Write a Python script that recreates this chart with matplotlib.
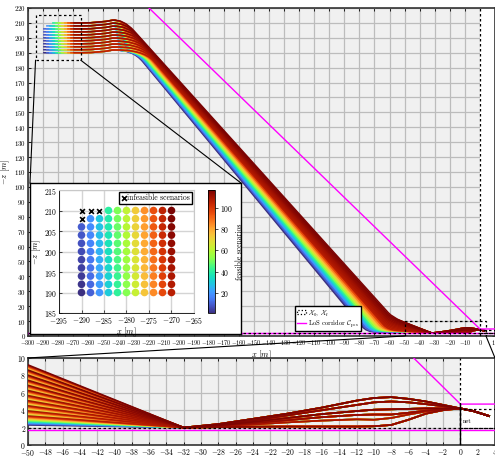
import numpy as np
import matplotlib.pyplot as plt
from matplotlib.collections import PathCollection
from matplotlib.colors import Normalize, ListedColormap
from matplotlib.patches import Rectangle, ConnectionPatch, Patch
from matplotlib.lines import Line2D
from matplotlib.path import Path

plt.rcParams['font.family'] = 'serif'
plt.rcParams['font.serif'] = ['cmr10', 'DejaVu Serif']
plt.rcParams['mathtext.fontset'] = 'cm'
plt.rcParams['axes.formatter.use_mathtext'] = True

# start grid of the scenarios (x0, -z0)
col_x = [-290, -288, -286, -284, -282, -280, -278, -276, -274, -272, -270]
row_z = [190, 192, 194, 196, 198, 200, 202, 204, 206, 208, 210]
infeasible_x = [-290, -290, -288, -286]
infeasible_z = [208, 210, 210, 210]

# route
level_end_x = -264
hump_x = [-252, -244]
hump_dz = [0.0, 1.8, 2.5]
lane_x111 = [-164, -146]    # where first / last lane cross -z = 111
lane_slope = [1.22, 1.12]   # dive slope of first / last lane
lane_z50 = [2.3, 9.2]       # -z of lowest / highest line at x = -50
dive_w = [0.6, 0.4]         # column / row share of the dive lane
low_w = [0.15, 0.85]        # column / row share of the low approach
merge_x, merge_z = -32, 2.0

# end game between merge point and the net
bump_x = [-32, -28, -24, -20, -16, -12, -10, -8, -6, -4, -2, 0]
bump_z = [
    [2.0, 2.4, 3.0, 3.6, 4.3, 5.1, 5.4, 5.5, 5.3, 5.0, 4.6, 4.2],
    [2.0, 2.3, 2.8, 3.4, 4.0, 4.6, 4.9, 5.0, 4.9, 4.7, 4.45, 4.2],
    [2.0, 2.25, 2.65, 3.1, 3.55, 3.9, 4.05, 4.1, 4.15, 4.2, 4.2, 4.2],
    [2.0, 2.2, 2.5, 2.85, 3.2, 3.45, 3.5, 3.5, 3.7, 3.95, 4.1, 4.2],
    [2.0, 2.15, 2.35, 2.6, 2.8, 2.95, 2.9, 3.1, 3.5, 3.85, 4.05, 4.2],
    [2.0, 2.05, 2.1, 2.12, 2.12, 2.12, 2.15, 2.3, 2.9, 3.6, 4.0, 4.2],
]
bump_of_row = [5, 3, 1, 4, 2, 0, 3, 5, 1, 2, 0]
exit_x = [1.5, 3.4]
exit_z = [3.9, 3.3]

# LoS corridor and net
los_x = [-219.7, 0, 10]
los_top = [220, 4.7, 4.7]
los_bottom = 1.7
floor_z = 2.0
net_top = 4.1

bad = set(zip(infeasible_x, infeasible_z))
paths, ids, feas_x, feas_z = [], [], [], []
k = 0
for i, x0 in enumerate(col_x):
    for j, z0 in enumerate(row_z):
        if (x0, z0) in bad:
            continue
        k += 1
        dl = (dive_w[0] * i + dive_w[1] * j) / 10
        ll = (low_w[0] * i + low_w[1] * j) / 10
        x111 = lane_x111[0] + dl * (lane_x111[1] - lane_x111[0])
        s = lane_slope[0] + dl * (lane_slope[1] - lane_slope[0])
        z50 = lane_z50[0] + ll * (lane_z50[1] - lane_z50[0])
        a = (z50 - merge_z) / (merge_x + 50)
        ztop = z0 + hump_dz[2]
        xtop = x111 - (ztop - 111) / s
        xk = (merge_z + a * merge_x - 111 - s * x111) / (a - s)
        zk = merge_z + a * (merge_x - xk)
        verts = [(x0, z0), (level_end_x, z0), (hump_x[0], z0 + hump_dz[0]),
                 (hump_x[1], z0 + hump_dz[1]),
                 (xtop, ztop), (xtop + 7, ztop - 7 * s),
                 (xk - 3, zk + 3 * s), (xk, zk), (xk + 6, zk - 6 * a)]
        codes = [Path.MOVETO, Path.LINETO, Path.CURVE3, Path.CURVE3,
                 Path.CURVE3, Path.CURVE3,
                 Path.LINETO, Path.CURVE3, Path.CURVE3]
        for bx, bz in zip(bump_x + exit_x, bump_z[bump_of_row[j]] + exit_z):
            verts.append((bx, bz))
            codes.append(Path.LINETO)
        paths.append(Path(verts, codes))
        ids.append(k)
        feas_x.append(x0)
        feas_z.append(z0)

ids = np.array(ids)
norm = Normalize(1, k)
cmap = ListedColormap(plt.get_cmap('turbo')(np.linspace(0.04, 1, 256)))
line_colors = cmap(norm(ids))

fig = plt.figure(figsize=(4.95, 4.57), dpi=100)

def style(axx, fs):
    axx.set_facecolor('#f0f0f0')
    axx.set_axisbelow(True)
    axx.grid(True, color='#bcbcbc', lw=0.9)
    axx.axvspan(0, 20, color='white', lw=0, zorder=1)
    axx.tick_params(direction='in', length=2, width=0.6, labelsize=fs, pad=1.5,
                    top=True, right=True)
    for sp in axx.spines.values():
        sp.set_linewidth(1.2)
        sp.set_color('#333333')

def draw(axx, lw):
    pc = PathCollection(paths, facecolors='none', edgecolors=line_colors,
                        linewidths=lw, zorder=3)
    axx.add_collection(pc)
    axx.plot(los_x, los_top, color='magenta', lw=1.0, zorder=4)
    axx.axhline(los_bottom, color='magenta', lw=1.0, zorder=4)
    axx.axhline(floor_z, color='k', lw=0.9, ls=(0, (2, 2)), zorder=5)
    axx.axvline(0, color='k', lw=0.9, ls=(0, (2, 2)), zorder=5)
    axx.add_patch(Rectangle((0, floor_z), 20, net_top - floor_z, fill=False,
                            ec='k', lw=0.9, ls=(0, (2, 2)), zorder=5))

# main view
ax = fig.add_axes([0.0566, 0.2648, 0.9434, 0.7177])
style(ax, 4.4)
draw(ax, 1.1)
ax.add_patch(Rectangle((-295, 185), 30, 30, fill=False, ec='k', lw=0.9,
                       ls=(0, (2, 2)), zorder=5))
ax.add_patch(Rectangle((-50, 0), 54, 10, fill=False, ec='k', lw=0.9,
                       ls=(0, (2, 2)), zorder=5))
ax.set_xlim(-300, 10)
ax.set_ylim(0, 220)
ax.set_xticks(range(-300, 11, 10))
ax.set_yticks(range(0, 221, 10))
ax.set_xlabel(r'$x$ $[m]$', fontsize=6, labelpad=1)
ax.set_ylabel(r'$-z$ $[m]$', fontsize=6, labelpad=1)
ax.tick_params(axis='y', labelsize=5)
handles = [Patch(fill=False, ec='k', ls=':', lw=0.9),
           Line2D([], [], color='magenta', lw=1.0)]
ax.legend(handles, [r'$\mathcal{X}_0,\ \mathcal{X}_{\rm f}$', r'LoS corridor $\mathcal{C}_{\rm pos}$'],
          loc='lower left', bbox_to_anchor=(0.565, 0.004), fontsize=4.8,
          fancybox=False, edgecolor='k', framealpha=1, borderpad=0.25,
          handlelength=1.3, labelspacing=0.1, handletextpad=0.4)

# zoom on the end game
ax2 = fig.add_axes([0.0566, 0.0263, 0.9434, 0.1904])
style(ax2, 5.5)
draw(ax2, 1.2)
ax2.plot([0, 0], [0, los_top[1]], color='k', lw=1.0, zorder=5)
ax2.text(0.25, 2.5, 'net', fontsize=4.5, zorder=6)
ax2.set_xlim(-50, 4)
ax2.set_ylim(0, 10)
ax2.set_xticks(range(-50, 5, 2))
ax2.set_yticks(range(0, 11, 2))

# inset with the start grid
frame = fig.add_axes([0.0606, 0.2691, 0.4263, 0.3304])
frame.set_xticks([])
frame.set_yticks([])
for sp in frame.spines.values():
    sp.set_linewidth(1.0)

axi = fig.add_axes([0.1192, 0.3151, 0.2727, 0.2691])
axi.set_axisbelow(True)
axi.grid(True, color='#d4d4d4', lw=1.0)
sc = axi.scatter(feas_x, feas_z, c=ids, cmap=cmap, norm=norm, s=30, lw=0, zorder=3)
axi.scatter(infeasible_x, infeasible_z, marker='x', color='k', s=12, lw=1.2,
            zorder=3, label='infeasible scenarios')
axi.set_xlim(-295, -265)
axi.set_ylim(185, 215)
axi.set_xticks(range(-295, -264, 5))
axi.set_yticks(range(185, 216, 5))
axi.tick_params(direction='in', length=2, width=0.5, labelsize=5.6, pad=1.2)
for side in ['top', 'right']:
    axi.spines[side].set_color('#c8c8c8')
for side in ['left', 'bottom']:
    axi.spines[side].set_linewidth(0.6)
axi.set_xlabel(r'$x$ $[m]$', fontsize=6, labelpad=0)
axi.set_ylabel(r'$-z$ $[m]$', fontsize=6, labelpad=1)
axi.legend(loc='upper right', fontsize=5.5, fancybox=False, edgecolor='k',
           framealpha=1, borderpad=0.2, handletextpad=0.1, handlelength=0.8,
           borderaxespad=0.3)

cax = fig.add_axes([0.4202, 0.3151, 0.0141, 0.2691])
cb = fig.colorbar(sc, cax=cax, ticks=[20, 40, 60, 80, 100])
cb.ax.tick_params(labelsize=5.5, length=2, width=0.5, pad=1.5)
cb.outline.set_linewidth(0.6)
cb.set_label('feasible scenarios', fontsize=5.5, labelpad=2)

# connectors
for pa, pb in [((-295, 185), (0, 1)), ((-265, 185), (1, 1))]:
    fig.add_artist(ConnectionPatch(xyA=pa, coordsA=ax.transData, xyB=pb,
                                   coordsB=frame.transAxes, color='k', lw=0.8, zorder=10))
for xa in [-50, 4]:
    fig.add_artist(ConnectionPatch(xyA=(xa, 0), coordsA=ax.transData, xyB=(xa, 10),
                                   coordsB=ax2.transData, color='k', lw=0.8, zorder=10))

fig.savefig('out.png', dpi=100)
